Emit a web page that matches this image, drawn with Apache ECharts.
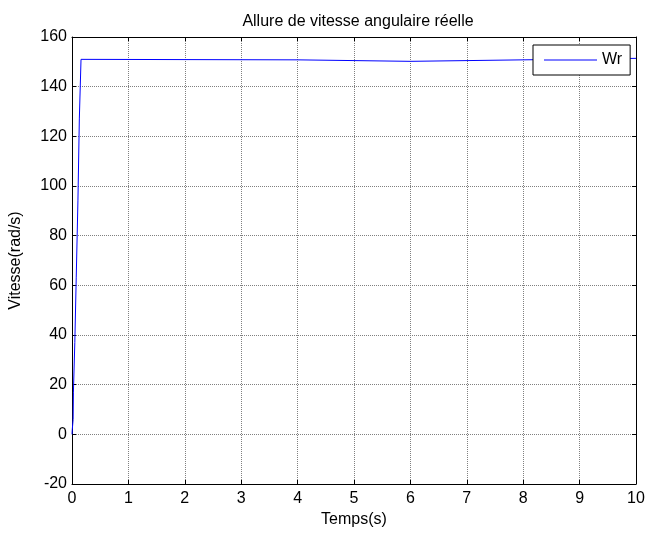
<!DOCTYPE html>
<html>
<head>
<meta charset="utf-8">
<script src="https://cdn.jsdelivr.net/npm/echarts@6/dist/echarts.min.js"></script>
<style>html,body{margin:0;padding:0;background:#fff}#c{width:648px;height:534px}</style>
</head>
<body>
<div id="c"></div>
<script>
const timeValues = [0, 0.005, 0.02, 0.025, 0.045, 0.05, 0.07, 0.075, 0.1, 0.105, 0.125, 0.13, 0.155, 0.16, 0.175, 0.18, 4.0, 4.0, 6.0, 6.0, 8.0, 8.0, 10];
const wrValues   = [0, 2, 6, 17, 17, 37, 37, 63, 63, 94, 94, 127, 127, 151, 151, 150.8, 150.8, 150.2, 150.2, 150.8, 150.8, 151.4, 151.4];
const xTicks = [0, 1, 2, 3, 4, 5, 6, 7, 8, 9, 10];
const yTicks = [-20, 0, 20, 40, 60, 80, 100, 120, 140, 160];
const titleText = 'Allure de vitesse angulaire réelle';
const xLabel = 'Temps(s)';
const yLabel = 'Vitesse(rad/s)';
const seriesName = 'Wr';

const chart = echarts.init(document.getElementById('c'), null, {renderer: 'canvas'});
const font = 'Liberation Sans, Arial, sans-serif';
const boxAxis = {
  axisLine: {show: true, onZero: false, lineStyle: {color: '#000', width: 1}},
  axisTick: {show: true, inside: true, length: 4, lineStyle: {color: '#000'}},
  axisLabel: {show: false},
  splitLine: {show: false}
};
const gridLine = {show: true, lineStyle: {color: '#808080', type: [1, 1], width: 1}};
chart.setOption({
  animation: false,
  backgroundColor: '#fff',
  title: {text: titleText, left: 353, top: 9, textAlign: 'center',
    textStyle: {fontFamily: font, fontSize: 16, fontWeight: 'normal', color: '#000'}},
  legend: {
    data: [{name: seriesName, icon: 'rect'}],
    left: 533, top: 45, orient: 'horizontal',
    itemWidth: 53, itemHeight: 1,
    padding: [7, 8, 7, 11],
    borderColor: '#000', borderWidth: 1, backgroundColor: '#fff',
    textStyle: {fontFamily: font, fontSize: 16, color: '#000'}
  },
  grid: {left: 70, right: 12, top: 37, bottom: 50},
  xAxis: [{
    type: 'value', min: 0, max: 10, interval: 1, position: 'bottom',
    name: xLabel, nameLocation: 'middle', nameGap: 28,
    nameTextStyle: {fontFamily: font, fontSize: 16, color: '#000'},
    axisLine: {show: true, onZero: false, lineStyle: {color: '#000', width: 1}},
    axisTick: {show: true, inside: true, length: 4, lineStyle: {color: '#000'}},
    axisLabel: {fontFamily: font, fontSize: 16, color: '#000', margin: 7,
      formatter: v => xTicks.includes(v) ? String(v) : ''},
    splitLine: gridLine
  }, Object.assign({type: 'value', min: 0, max: 10, interval: 1, position: 'top'}, boxAxis)],
  yAxis: [{
    type: 'value', min: -20, max: 160, interval: 20, position: 'left',
    name: yLabel, nameLocation: 'middle', nameGap: 48,
    nameTextStyle: {fontFamily: font, fontSize: 16, color: '#000'},
    axisLine: {show: true, onZero: false, lineStyle: {color: '#000', width: 1}},
    axisTick: {show: true, inside: true, length: 4, lineStyle: {color: '#000'}},
    axisLabel: {fontFamily: font, fontSize: 16, color: '#000', margin: 5,
      formatter: v => yTicks.includes(v) ? String(v) : ''},
    splitLine: gridLine
  }, Object.assign({type: 'value', min: -20, max: 160, interval: 20, position: 'right'}, boxAxis)],
  series: [{
    name: seriesName, type: 'line', xAxisIndex: 0, yAxisIndex: 0,
    data: timeValues.map((t, i) => [t, wrValues[i]]),
    showSymbol: false, symbol: 'none',
    lineStyle: {color: '#0000ff', width: 1},
    itemStyle: {color: '#0000ff'}
  }]
});
</script>
</body>
</html>
